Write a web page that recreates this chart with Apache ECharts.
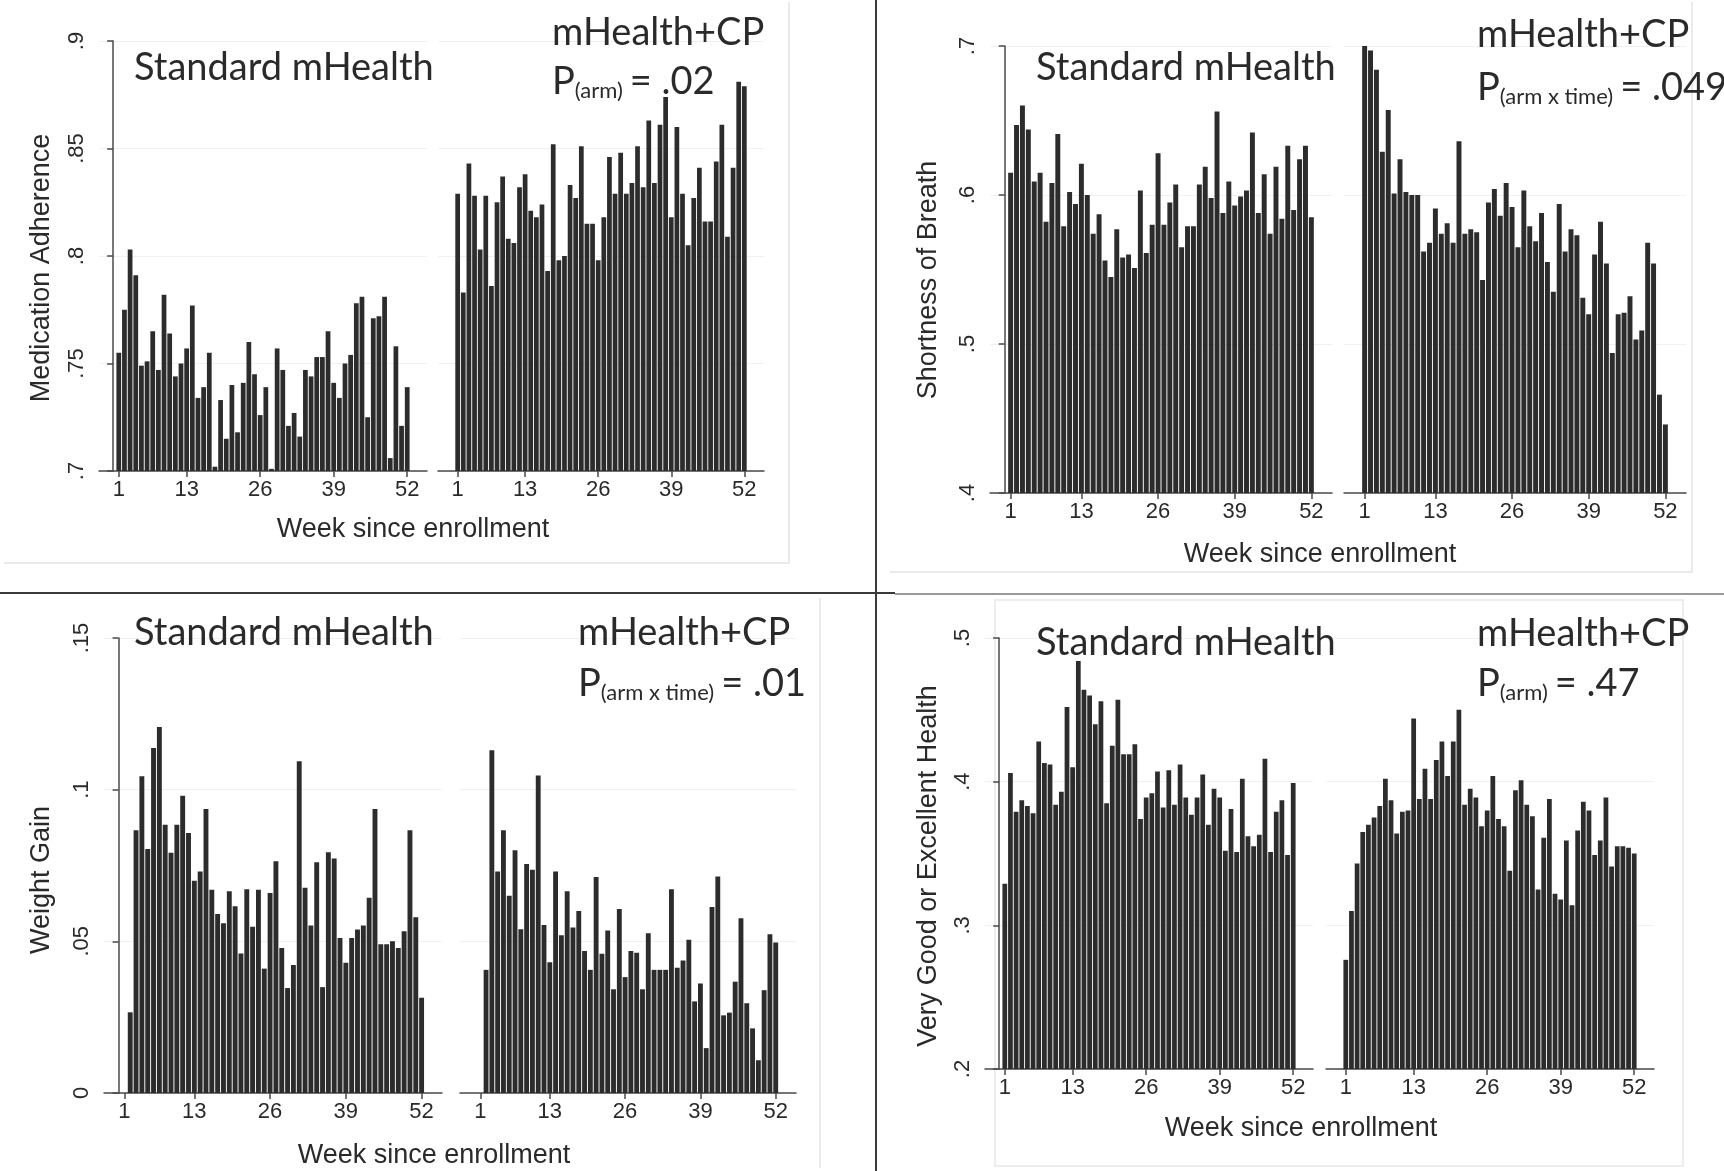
<!DOCTYPE html>
<html><head><meta charset="utf-8">
<script src="https://cdn.jsdelivr.net/npm/echarts@6/dist/echarts.min.js"></script>
<style>html,body{margin:0;padding:0;background:#fff}#c{width:1724px;height:1171px}</style>
</head><body><div id="c"></div>
<script>
// ---------- data ----------
const weeks = [1,2,3,4,5,6,7,8,9,10,11,12,13,14,15,16,17,18,19,20,21,22,23,24,25,26,27,28,29,30,31,32,33,34,35,36,37,38,39,40,41,42,43,44,45,46,47,48,49,50,51,52];
const weekTicks = [1,13,26,39,52];

const adherenceTicks = [0.7,0.75,0.8,0.85,0.9];
const adherenceStd = [.755,.775,.803,.791,.749,.751,.765,.747,.782,.764,.744,.750,.757,.777,.734,.739,.755,.702,.733,.715,.740,.718,.741,.760,.745,.726,.739,.701,.757,.747,.721,.727,.716,.747,.744,.753,.753,.765,.741,.734,.750,.754,.778,.781,.725,.771,.772,.781,.706,.758,.721,.739];
const adherenceCP = [.829,.783,.843,.828,.803,.828,.786,.825,.837,.808,.806,.832,.838,.821,.818,.824,.793,.852,.798,.800,.833,.827,.851,.815,.815,.798,.818,.846,.829,.848,.829,.834,.851,.832,.863,.834,.861,.874,.818,.860,.829,.805,.827,.841,.816,.816,.844,.861,.809,.841,.881,.879];

const breathTicks = [0.4,0.5,0.6,0.7];
const breathStd = [.615,.647,.660,.644,.609,.615,.582,.608,.641,.579,.602,.594,.621,.600,.574,.587,.556,.545,.577,.558,.560,.551,.603,.561,.580,.628,.580,.595,.607,.565,.579,.579,.607,.619,.598,.656,.588,.609,.593,.599,.603,.642,.588,.614,.574,.619,.584,.633,.590,.624,.633,.585];
const breathCP = [.704,.697,.684,.629,.657,.601,.624,.602,.600,.600,.562,.568,.591,.574,.581,.568,.636,.574,.577,.575,.543,.595,.604,.586,.608,.592,.565,.603,.579,.569,.588,.555,.535,.594,.562,.577,.573,.531,.520,.560,.582,.554,.494,.520,.521,.532,.503,.509,.568,.554,.466,.446];

const weightTicks = [0,0.05,0.1,0.15];
const weightStd = [null,.0266,.0866,.1044,.0804,.1137,.1207,.0884,.0792,.0884,.098,.0857,.070,.073,.0936,.067,.059,.056,.0665,.0616,.046,.0672,.0548,.067,.041,.0659,.0764,.0478,.0346,.0422,.1094,.0677,.0552,.0761,.0349,.0794,.0773,.0511,.0429,.0511,.0539,.0552,.0644,.0936,.049,.049,.050,.0478,.0533,.0866,.0579,.0314];
const weightCP = [null,.0406,.113,.073,.0866,.065,.080,.054,.0755,.0736,.1047,.0554,.0431,.073,.052,.0665,.0546,.060,.0468,.0406,.0712,.0459,.0536,.0342,.0607,.0382,.0468,.0462,.0342,.0527,.0406,.0406,.0406,.0672,.0413,.0437,.0505,.0302,.0361,.0148,.0613,.0714,.0256,.0265,.0367,.0576,.0296,.0213,.0108,.0339,.0523,.0496];

const healthTicks = [0.2,0.3,0.4,0.5];
const healthStd = [.329,.406,.379,.387,.383,.378,.428,.413,.412,.384,.393,.452,.410,.484,.464,.460,.440,.456,.385,.425,.457,.419,.419,.426,.374,.389,.392,.407,.382,.408,.384,.412,.389,.377,.389,.405,.370,.395,.389,.352,.381,.351,.402,.362,.355,.363,.416,.351,.379,.387,.349,.399];
const healthCP = [.276,.310,.343,.365,.370,.375,.383,.402,.387,.364,.379,.380,.444,.388,.409,.388,.415,.428,.404,.428,.450,.384,.395,.389,.369,.380,.404,.374,.369,.338,.394,.401,.384,.376,.325,.361,.388,.322,.318,.359,.314,.366,.386,.380,.349,.359,.389,.341,.355,.355,.354,.350];

const armLabel = 'Standard mHealth';
const cpLabel = 'mHealth+CP';
const xTitle = 'Week since enrollment';

// ---------- layout ----------
const panels = [
  {title:'Medication Adherence', ticks:adherenceTicks, std:adherenceStd, cp:adherenceCP,
   g:[[99,41,328,430],[438,41,326,430]], ytx:42, yty:268, xtx:413, xty:530,
   stdPos:[134,68], cpPos:[552,33], pPos:[552,82], sub:'(arm)', pval:'.02'},
  {title:'Shortness of Breath', ticks:breathTicks, std:breathStd, cp:breathCP,
   g:[[990,46,342,447],[1344,46,342,447]], ytx:929, yty:280, xtx:1320, xty:555,
   stdPos:[1036,68], cpPos:[1477,35], pPos:[1477,88], sub:'(arm x time)', pval:'.049'},
  {title:'Weight Gain', ticks:weightTicks, std:weightStd, cp:weightCP,
   g:[[104,638,338,455],[460,638,336,455]], ytx:42, yty:880, xtx:434, xty:1156,
   stdPos:[134,633], cpPos:[578,633], pPos:[578,684], sub:'(arm x time)', pval:'.01'},
  {title:'Very Good or Excellent Health', ticks:healthTicks, std:healthStd, cp:healthCP,
   g:[[985,638,328,431],[1326,638,328,431]], ytx:929, yty:866, xtx:1301, xty:1129,
   stdPos:[1036,643], cpPos:[1477,634], pPos:[1477,684], sub:'(arm)', pval:'.47'}
];

const AX = '#4a4a4a', TXT = '#2a2a2a', BAR = '#2c2c2c';
const TICKFONT = 'Liberation Sans';
const ANN = 'Lato';
const ANNSIZE = 38;

function fmt(v){ const s = String(+(+v).toFixed(3)); return s.startsWith('0.') ? s.slice(1) : s; }

const mctx = document.createElement('canvas').getContext('2d');
function tw(text, font){ mctx.font = font; return mctx.measureText(text).width; }

const grid=[], xAxis=[], yAxis=[], series=[], graphic=[];
panels.forEach((p) => {
  [p.std, p.cp].forEach((vals, side) => {
    const gi = grid.length;
    const [l,t,w,h] = p.g[side];
    grid.push({left:l, top:t, width:w, height:h, containLabel:false});
    xAxis.push({type:'value', gridIndex:gi, min:-2.5, max:55.5,
      axisLine:{show:true, onZero:false, lineStyle:{color:AX, width:1.5}},
      axisTick:{show:true, customValues:weekTicks, length:6, lineStyle:{color:AX, width:1.5}},
      axisLabel:{show:true, customValues:weekTicks, fontSize:22, color:TXT, fontFamily:TICKFONT, margin:8},
      splitLine:{show:false}});
    const tk = p.ticks;
    yAxis.push({type:'value', gridIndex:gi, min:tk[0], max:tk[tk.length-1], interval:+(tk[1]-tk[0]).toFixed(4),
      axisLine:{show:side===0, lineStyle:{color:AX, width:1.5}},
      axisTick:{show:side===0, length:6, lineStyle:{color:AX, width:1.5}},
      axisLabel:{show:side===0, rotate:90, fontSize:22, color:TXT, fontFamily:TICKFONT, margin:11, formatter:fmt},
      splitLine:{show:true, lineStyle:{color:'#f0f0f0', width:1}}});
    series.push({type:'bar', xAxisIndex:gi, yAxisIndex:gi, barWidth:'84%', clip:true,
      itemStyle:{color:BAR}, emphasis:{disabled:true}, animation:false,
      data: weeks.map((wk,k)=>[wk, vals[k]])});
  });
  // axis titles
  graphic.push({type:'text', z:100, x:p.ytx, y:p.yty, rotation:Math.PI/2,
    style:{text:p.title, font:'27px "'+TICKFONT+'"', fill:TXT, align:'center', verticalAlign:'middle'}});
  graphic.push({type:'text', z:100, x:p.xtx, y:p.xty,
    style:{text:xTitle, font:'27px "'+TICKFONT+'"', fill:TXT, align:'center', verticalAlign:'middle'}});
  // annotations
  const F = ANNSIZE+'px '+ANN, S = '22px '+ANN;
  graphic.push({type:'text', z:100, x:p.stdPos[0], y:p.stdPos[1], style:{text:armLabel, font:F, fill:TXT, align:'left', verticalAlign:'middle'}});
  graphic.push({type:'text', z:100, x:p.cpPos[0], y:p.cpPos[1], style:{text:cpLabel, font:F, fill:TXT, align:'left', verticalAlign:'middle'}});
  const wP = tw('P', F), wS = tw(p.sub, S);
  graphic.push({type:'text', z:100, x:p.pPos[0], y:p.pPos[1], style:{text:'P', font:F, fill:TXT, align:'left', verticalAlign:'middle'}});
  graphic.push({type:'text', z:100, x:p.pPos[0]+wP, y:p.pPos[1]+9, style:{text:p.sub, font:S, fill:TXT, align:'left', verticalAlign:'middle'}});
  graphic.push({type:'text', z:100, x:p.pPos[0]+wP+wS+7, y:p.pPos[1], style:{text:'= '+p.pval, font:F, fill:TXT, align:'left', verticalAlign:'middle'}});
});

// faint panel frames and separators
const faint = {stroke:'#e4e4e4', lineWidth:1.5};
graphic.push({type:'polyline', shape:{points:[[789,2],[789,563],[4,563]]}, style:faint, silent:true});
graphic.push({type:'polyline', shape:{points:[[1692,2],[1692,572],[890,572]]}, style:faint, silent:true});
graphic.push({type:'polyline', shape:{points:[[820,598],[820,1168]]}, style:faint, silent:true});
graphic.push({type:'rect', shape:{x:995, y:600, width:688, height:566}, style:{fill:'none', stroke:'#e8e8e8', lineWidth:1.5}, silent:true});
graphic.push({type:'line', z:100, shape:{x1:876, y1:0, x2:876, y2:1171}, style:{stroke:'#3a3a3a', lineWidth:2}, silent:true});
graphic.push({type:'line', z:100, shape:{x1:0, y1:593, x2:895, y2:593}, style:{stroke:'#3a3a3a', lineWidth:2}, silent:true});
graphic.push({type:'line', z:100, shape:{x1:895, y1:594, x2:1724, y2:594}, style:{stroke:'#9a9a9a', lineWidth:2}, silent:true});

const chart = echarts.init(document.getElementById('c'), null, {renderer:'canvas'});
chart.setOption({animation:false, backgroundColor:'#ffffff', grid, xAxis, yAxis, series, graphic});
</script></body></html>
